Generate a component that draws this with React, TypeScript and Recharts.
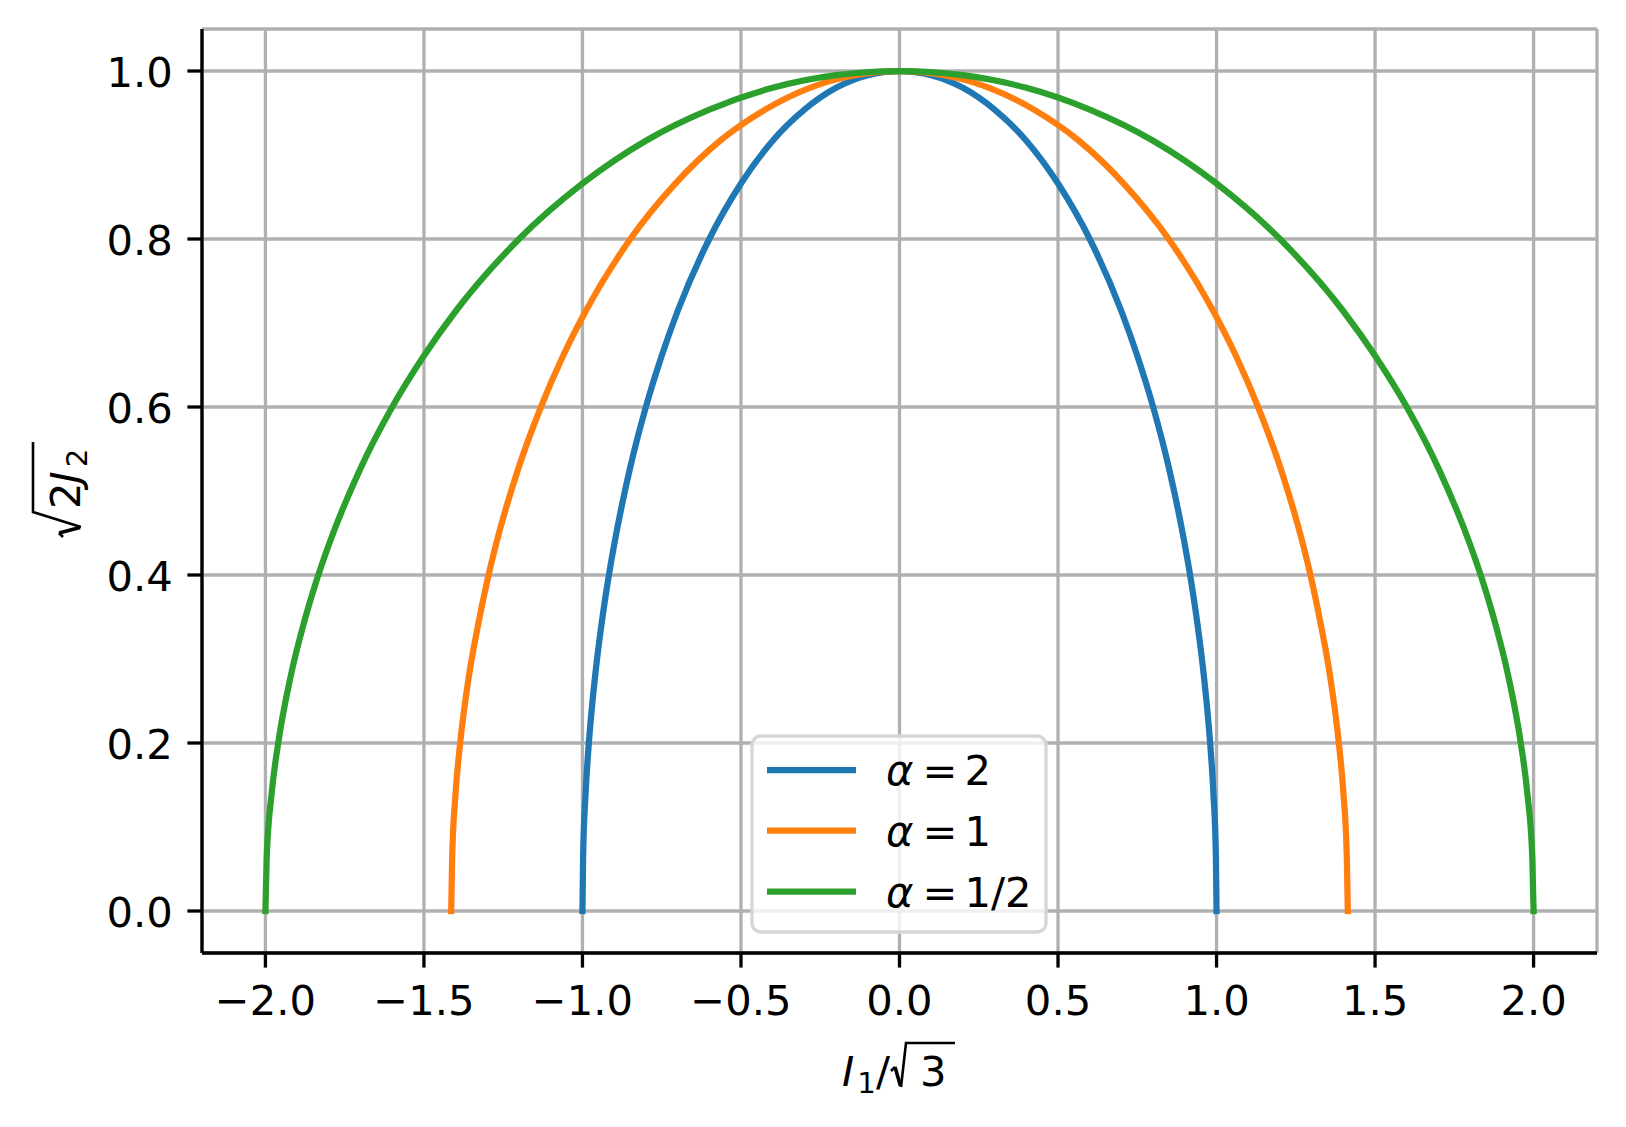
import React from 'react';
import { LineChart, Line, XAxis, YAxis, CartesianGrid, Customized } from 'recharts';

// ---- data ----
const xTicks = [-2.0, -1.5, -1.0, -0.5, 0.0, 0.5, 1.0, 1.5, 2.0];
const yTicks = [0.0, 0.2, 0.4, 0.6, 0.8, 1.0];

const alphaLabels = ['2', '1', '1/2'];
const seriesColors = ['#1f77b4', '#ff7f0e', '#2ca02c'];

const blueX = [-1, -0.998, -0.99, -0.98, -0.96, -0.94, -0.92, -0.9, -0.85, -0.8, -0.75, -0.7, -0.6, -0.5, -0.4, -0.3, -0.2, -0.1, 0, 0.1, 0.2, 0.3, 0.4, 0.5, 0.6, 0.7, 0.75, 0.8, 0.85, 0.9, 0.92, 0.94, 0.96, 0.98, 0.99, 0.998, 1];
const blueY = [0, 0.063, 0.141, 0.199, 0.28, 0.341, 0.392, 0.436, 0.527, 0.6, 0.661, 0.714, 0.8, 0.866, 0.917, 0.954, 0.98, 0.995, 1.0, 0.995, 0.98, 0.954, 0.917, 0.866, 0.8, 0.714, 0.661, 0.6, 0.527, 0.436, 0.392, 0.341, 0.28, 0.199, 0.141, 0.063, 0];

const orangeX = [-1.414, -1.411, -1.4, -1.386, -1.358, -1.329, -1.301, -1.273, -1.202, -1.131, -1.061, -0.99, -0.849, -0.707, -0.566, -0.424, -0.283, -0.141, 0, 0.141, 0.283, 0.424, 0.566, 0.707, 0.849, 0.99, 1.061, 1.131, 1.202, 1.273, 1.301, 1.329, 1.358, 1.386, 1.4, 1.411, 1.414];
const orangeY = [0, 0.063, 0.141, 0.199, 0.28, 0.341, 0.392, 0.436, 0.527, 0.6, 0.661, 0.714, 0.8, 0.866, 0.917, 0.954, 0.98, 0.995, 1.0, 0.995, 0.98, 0.954, 0.917, 0.866, 0.8, 0.714, 0.661, 0.6, 0.527, 0.436, 0.392, 0.341, 0.28, 0.199, 0.141, 0.063, 0];

const greenX = [-2, -1.996, -1.98, -1.96, -1.92, -1.88, -1.84, -1.8, -1.7, -1.6, -1.5, -1.4, -1.2, -1.0, -0.8, -0.6, -0.4, -0.2, 0, 0.2, 0.4, 0.6, 0.8, 1.0, 1.2, 1.4, 1.5, 1.6, 1.7, 1.8, 1.84, 1.88, 1.92, 1.96, 1.98, 1.996, 2];
const greenY = [0, 0.063, 0.141, 0.199, 0.28, 0.341, 0.392, 0.436, 0.527, 0.6, 0.661, 0.714, 0.8, 0.866, 0.917, 0.954, 0.98, 0.995, 1.0, 0.995, 0.98, 0.954, 0.917, 0.866, 0.8, 0.714, 0.661, 0.6, 0.527, 0.436, 0.392, 0.341, 0.28, 0.199, 0.141, 0.063, 0];

const toPoints = (xs: number[], ys: number[]) => xs.map((x, i) => ({ x, y: ys[i] }));
const seriesData = [toPoints(blueX, blueY), toPoints(orangeX, orangeY), toPoints(greenX, greenY)];

// ---- styling ----
const FONT = '"DejaVu Sans", sans-serif';
const FS = 41.7;
const SUB = 29.2;
const W = 1626;
const H = 1127;

const fmt = (v: number) => (v < 0 ? '\u2212' + Math.abs(v).toFixed(1) : v.toFixed(1));

const XTick = (props: any) => {
  const { x, y, payload } = props;
  return (
    <text x={x} y={y} dy={33} textAnchor="middle" fontFamily={FONT} fontSize={FS} fill="#000">
      {fmt(payload.value)}
    </text>
  );
};

const YTick = (props: any) => {
  const { x, y, payload } = props;
  return (
    <text x={x} y={y} dy={16} textAnchor="end" fontFamily={FONT} fontSize={FS} fill="#000">
      {fmt(payload.value)}
    </text>
  );
};

const Extras = () => {
  const rowY = [770, 830.7, 891.5];
  return (
    <g>
      {/* legend */}
      <rect x={752} y={736} width={294} height={196} rx={9} ry={9} fill="rgba(255,255,255,0.8)" stroke="#d6d6d6" strokeWidth={3.3} />
      {alphaLabels.map((lab, i) => (
        <g key={lab}>
          <line x1={767} x2={856} y1={rowY[i]} y2={rowY[i]} stroke={seriesColors[i]} strokeWidth={6.25} />
          <text x={886} y={rowY[i] + 15} fontFamily={FONT} fontSize={FS} fill="#000" fontStyle="italic">α</text>
          <text x={922.5} y={rowY[i] + 15} fontFamily={FONT} fontSize={FS} fill="#000">=</text>
          <text x={964.5} y={rowY[i] + 15} fontFamily={FONT} fontSize={FS} fill="#000">{lab}</text>
        </g>
      ))}
      {/* x label: I1 / sqrt(3) */}
      <g fontFamily={FONT} fill="#000">
        <text x={842} y={1086} fontSize={FS}>
          <tspan fontStyle="italic">I</tspan>
          <tspan fontSize={SUB} dx={3} dy={7}>1</tspan>
          <tspan dy={-7}>/</tspan>
        </text>
        <path d="M891 1071 L895 1067" fill="none" stroke="#000" strokeWidth={2.6} />
        <path d="M895 1067 L900.5 1086" fill="none" stroke="#000" strokeWidth={3.6} />
        <path d="M901 1087 L906 1043 L955 1043" fill="none" stroke="#000" strokeWidth={2.6} strokeLinejoin="miter" />
        <text x={920} y={1086} fontSize={FS}>3</text>
      </g>
      {/* y label: sqrt(2 J2), rotated */}
      <g fontFamily={FONT} fill="#000" transform="translate(80,540) rotate(-90)">
        <path d="M3 -17 L7 -21" fill="none" stroke="#000" strokeWidth={2.6} />
        <path d="M7 -21 L12.5 0" fill="none" stroke="#000" strokeWidth={3.6} />
        <path d="M13 1 L28 -47 L98 -47" fill="none" stroke="#000" strokeWidth={2.6} />
        <text x={31} y={0} fontSize={FS}>
          <tspan>2</tspan>
          <tspan fontStyle="italic" dx={-1}>J</tspan>
          <tspan fontSize={SUB} dx={4} dy={7}>2</tspan>
        </text>
      </g>
    </g>
  );
};

export default function App() {
  return (
    <div style={{ position: 'absolute', left: 0, top: 0, width: W, height: H, background: '#fff' }}>
      <LineChart width={W} height={H} margin={{ top: 29, right: 29, left: 0, bottom: 0 }}>
        <CartesianGrid stroke="#b0b0b0" strokeWidth={3.3} />
        <XAxis
          type="number"
          dataKey="x"
          domain={[-2.2, 2.2]}
          ticks={xTicks}
          interval={0}
          allowDataOverflow
          height={174}
          tickSize={14.6}
          tickMargin={14.6}
          tick={<XTick />}
          axisLine={{ stroke: '#000', strokeWidth: 3.3 }}
          tickLine={{ stroke: '#000', strokeWidth: 3.3 }}
        />
        <YAxis
          type="number"
          dataKey="y"
          domain={[-0.05, 1.05]}
          ticks={yTicks}
          interval={0}
          allowDataOverflow
          width={202}
          tickSize={14.6}
          tickMargin={14.6}
          tick={<YTick />}
          axisLine={{ stroke: '#000', strokeWidth: 3.3 }}
          tickLine={{ stroke: '#000', strokeWidth: 3.3 }}
        />
        <XAxis xAxisId="top" orientation="top" type="number" domain={[-2.2, 2.2]} height={0} tick={false} tickLine={false} axisLine={{ stroke: '#000', strokeWidth: 3.3 }} />
        <YAxis yAxisId="right" orientation="right" type="number" domain={[-0.05, 1.05]} width={0} tick={false} tickLine={false} axisLine={{ stroke: '#000', strokeWidth: 3.3 }} />
        {seriesData.map((d, i) => (
          <Line
            key={i}
            data={d}
            dataKey="y"
            type="monotone"
            stroke={seriesColors[i]}
            strokeWidth={6.25}
            strokeLinecap="square"
            strokeLinejoin="round"
            dot={false}
            activeDot={false}
            isAnimationActive={false}
          />
        ))}
        <Customized component={<Extras />} />
      </LineChart>
    </div>
  );
}
